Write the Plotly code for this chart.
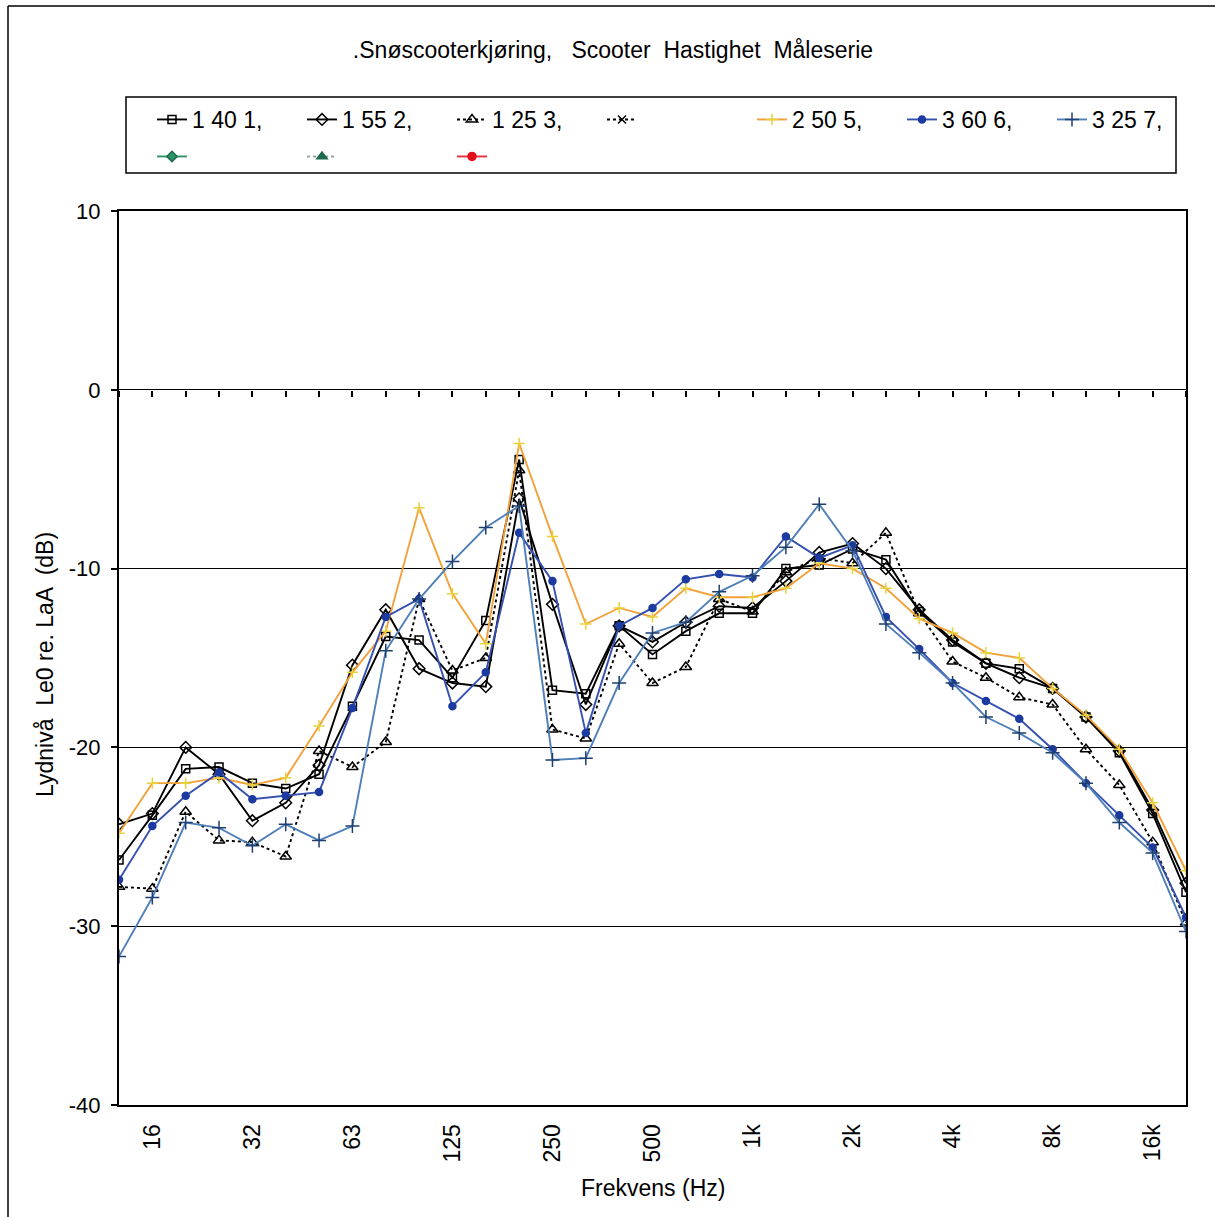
import plotly.graph_objects as go

bands = ["12.5", "16", "20", "25", "31.5", "40", "50", "63", "80", "100", "125", "160",
         "200", "250", "315", "400", "500", "630", "800", "1k", "1.25k", "1.6k", "2k",
         "2.5k", "3.15k", "4k", "5k", "6.3k", "8k", "10k", "12.5k", "16k", "20k"]
tick_labels = ["16", "32", "63", "125", "250", "500", "1k", "2k", "4k", "8k", "16k"]
tick_bands = ["16", "31.5", "63", "125", "250", "500", "1k", "2k", "4k", "8k", "16k"]
y_ticks = [-40, -30, -20, -10, 0, 10]
y_tick_labels = ["-40", "-30", "-20", "-10", "0", "10"]

s1_40_1 = [-26.3, -23.8, -21.2, -21.1, -22.0, -22.3, -21.5, -17.7, -13.8, -14.0, -16.1, -12.9,
           -3.9, -16.8, -17.0, -13.2, -14.8, -13.5, -12.5, -12.5, -10.0, -9.8, -8.9,
           -9.5, -12.4, -14.1, -15.3, -15.6, -16.7, -18.3, -20.3, -23.7, -28.1]
s1_55_2 = [-24.3, -23.7, -20.0, -21.5, -24.1, -23.1, -21.0, -15.4, -12.3, -15.6, -16.4, -16.6,
           -6.1, -12.0, -17.6, -13.2, -14.1, -13.0, -12.1, -12.2, -10.7, -9.1, -8.6,
           -10.0, -12.3, -14.0, -15.3, -16.1, -16.7, -18.3, -20.2, -23.5, -27.6]
s1_25_3 = [-27.8, -27.9, -23.6, -25.2, -25.3, -26.1, -20.2, -21.1, -19.7, -11.7, -15.7, -15.0,
           -4.5, -19.0, -19.5, -14.2, -16.4, -15.5, -11.7, -12.4, -10.2, -9.4, -9.7,
           -8.0, -12.5, -15.2, -16.1, -17.2, -17.6, -20.1, -22.1, -25.3, -29.8]
s_empty = [None] * 33
s2_50_5 = [-24.8, -22.0, -22.0, -21.7, -22.1, -21.7, -18.8, -15.8, -13.5, -6.6, -11.4, -14.2,
           -3.0, -8.2, -13.1, -12.2, -12.7, -11.1, -11.6, -11.6, -11.1, -9.7, -10.0,
           -11.1, -12.8, -13.6, -14.7, -15.0, -16.7, -18.2, -20.1, -23.1, -26.9]
s3_60_6 = [-27.4, -24.4, -22.7, -21.4, -22.9, -22.7, -22.5, -17.8, -12.7, -11.7, -17.7, -15.8,
           -8.0, -10.7, -19.2, -13.2, -12.2, -10.6, -10.3, -10.5, -8.2, -9.4, -8.7,
           -12.7, -14.5, -16.4, -17.4, -18.4, -20.1, -22.0, -23.8, -25.6, -29.5]
s3_25_7 = [-31.7, -28.4, -24.2, -24.5, -25.5, -24.3, -25.2, -24.4, -14.6, -11.7, -9.6, -7.7,
           -6.5, -20.7, -20.6, -16.4, -13.6, -13.0, -11.3, -10.4, -8.8, -6.4, -9.0,
           -13.1, -14.7, -16.4, -18.3, -19.2, -20.3, -22.0, -24.2, -25.9, -30.3]

x_idx = list(range(len(bands)))
tick_pos = [bands.index(t) for t in tick_bands]

FONT = "Liberation Sans, Arial, sans-serif"
FS = 23

fig = go.Figure()

def add(name, y, color, dash, symbol, msize, mcolor, mline, legend="legend", width=1.9):
    fig.add_trace(go.Scatter(
        x=x_idx, y=y, name=name, mode="lines+markers", legend=legend,
        line=dict(color=color, width=width, dash=dash),
        marker=dict(symbol=symbol, size=msize, color=mcolor,
                    line=dict(color=mline, width=1.5)),
        hovertext=bands,
    ))

add("1 40 1,", s1_40_1, "black", "solid", "square-open", 8, "black", "black")
add("1 55 2,", s1_55_2, "black", "solid", "diamond-open", 9, "black", "black")
add("1 25 3,", s1_25_3, "black", "dot", "triangle-up-open", 10, "black", "black")
add(" ", s_empty, "black", "dot", "x-thin-open", 8, "black", "black")
add("2 50 5,", s2_50_5, "#f2a23a", "solid", "cross-thin-open", 8, "#e8d23a", "#e8d23a")
add("3 60 6,", s3_60_6, "#3450b0", "solid", "circle", 7, "#1c3aa0", "#1c3aa0")
add("3 25 7,", s3_25_7, "#4f7fb8", "solid", "cross-thin-open", 10, "#1f3f70", "#1f3f70")
add(" ", s_empty, "#2e9468", "solid", "diamond", 8, "#2e9468", "#1d6b4a", legend="legend2")
add(" ", s_empty, "#9aa5a0", "dot", "triangle-up", 9, "#1d6b4a", "#1d6b4a", legend="legend2")
add(" ", s_empty, "#e8303a", "solid", "circle", 8, "#e0101a", "#e0101a", legend="legend2")

# invisible trace to carry the tick marks on the zero line
fig.add_trace(go.Scatter(x=x_idx, y=s_empty, xaxis="x2", yaxis="y", showlegend=False,
                         hoverinfo="skip"))

L, R, T, B = 119, 29, 211, 112
W, H = 1215, 1217
pw, ph = W - L - R, H - T - B

def px(x):
    return (x - L) / pw

def py(y):
    return (H - B - y) / ph

leg_common = dict(orientation="h", xanchor="left", yanchor="top",
                  entrywidth=105, entrywidthmode="pixels", bgcolor="rgba(0,0,0,0)",
                  borderwidth=0, font=dict(size=FS, family=FONT), itemwidth=30,
                  traceorder="normal")

fig.update_layout(
    width=W, height=H,
    margin=dict(l=L, r=R, t=T, b=B),
    paper_bgcolor="white", plot_bgcolor="white",
    font=dict(family=FONT, size=FS, color="black"),
    showlegend=True,
    title=dict(text=".Snøscooterkjøring,   Scooter  Hastighet  Måleserie",
               x=613 / W, xref="container", xanchor="center",
               y=1 - 50 / H, yref="container", yanchor="middle",
               font=dict(size=FS, family=FONT)),
    xaxis=dict(range=[0, 32], tickvals=tick_pos, ticktext=tick_labels, tickangle=-90,
               showgrid=False, zeroline=False, ticks="", showline=True, linecolor="black",
               linewidth=2, mirror=True, tickfont=dict(size=FS), ticklabelstandoff=8),
    xaxis2=dict(range=[0, 32], overlaying="x", anchor="free", position=0.8, side="bottom",
                tickvals=x_idx, ticks="outside", ticklen=6, tickwidth=1.5, tickcolor="black",
                showticklabels=False, showgrid=False, zeroline=False, showline=False),
    yaxis=dict(range=[-40, 10], tickvals=y_ticks, ticktext=y_tick_labels, showgrid=True,
               gridcolor="black", gridwidth=1.2,
               zeroline=False, showline=True, linecolor="black", linewidth=2, mirror=True,
               ticks="outside", ticklen=6, tickwidth=1.5, tickcolor="black",
               tickfont=dict(size=FS - 1), ticklabelstandoff=6),
    legend=dict(x=px(152), y=py(98), **leg_common),
    legend2=dict(x=px(152), y=py(135), **leg_common),
    shapes=[
        dict(type="rect", xref="paper", yref="paper", x0=px(126), x1=px(1176),
             y0=py(173), y1=py(97), line=dict(color="black", width=1.5)),
        dict(type="line", xref="paper", yref="paper", x0=px(8), x1=px(8),
             y0=py(1217), y1=py(6), line=dict(color="black", width=1.5)),
        dict(type="line", xref="paper", yref="paper", x0=px(8), x1=px(1215),
             y0=py(6), y1=py(6), line=dict(color="black", width=1.5)),
    ],
    annotations=[
        dict(text="Frekvens (Hz)", xref="paper", yref="paper", x=px(653), y=py(1188),
             xanchor="center", yanchor="middle", showarrow=False,
             font=dict(size=FS, family=FONT)),
        dict(text="Lydnivå  Le0 re. LaA  (dB)", xref="paper", yref="paper", x=px(45),
             y=py(665), xanchor="center", yanchor="middle", showarrow=False, textangle=-90,
             font=dict(size=FS, family=FONT)),
    ],
)

fig.write_html("out.html")
